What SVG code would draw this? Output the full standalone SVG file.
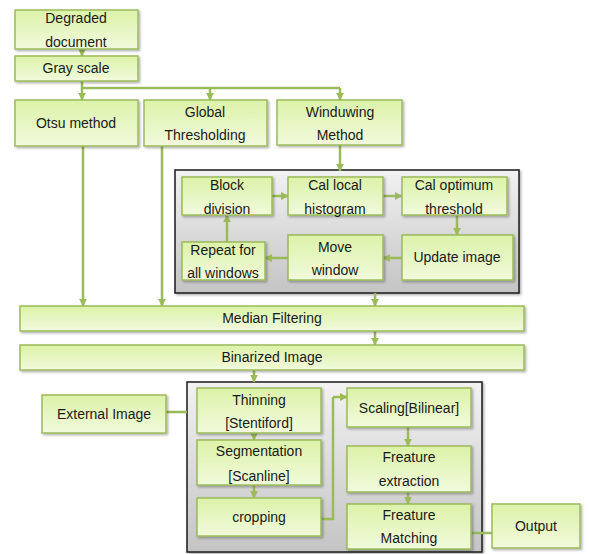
<svg xmlns="http://www.w3.org/2000/svg" width="590" height="554" viewBox="0 0 590 554">
<defs>
<linearGradient id="gg" x1="0" y1="0" x2="0" y2="1"><stop offset="0" stop-color="#dcf2a8"/><stop offset="1" stop-color="#f1fadc"/></linearGradient>
<linearGradient id="gray" x1="0" y1="0" x2="0" y2="1"><stop offset="0" stop-color="#f2f2f2"/><stop offset="1" stop-color="#c4c4c4"/></linearGradient>
<filter id="sh" x="-10%" y="-10%" width="120%" height="130%"><feDropShadow dx="1.5" dy="1.5" stdDeviation="1" flood-color="#000" flood-opacity="0.3"/></filter>
<marker id="ah" viewBox="0 0 10 10" refX="9" refY="5" markerWidth="3.2" markerHeight="3.2" orient="auto"><path d="M0,0L10,5L0,10z" fill="#9bbb59"/></marker>
</defs>
<style>
.n{fill:url(#gg);stroke:#9bbb59;stroke-width:1.5;filter:url(#sh)}
.o{fill:url(#gray);stroke:#1a1a1a;stroke-width:1.5;filter:url(#sh)}
.t{font-family:"Liberation Sans",Arial,sans-serif;font-size:14px;fill:#1a1a1a;text-anchor:middle}
.c{fill:none;stroke:#9bbb59;stroke-width:2.5}
.a{marker-end:url(#ah)}
</style>
<rect width="590" height="554" fill="#fff"/>
<g id="frame-window"><rect class="o" x="175" y="170" width="344" height="123"/></g>
<g id="frame-recog"><rect class="o" x="187" y="382" width="295" height="170"/></g>
<g id="connectors">
<path class="c a" d="M82,45V56"/>
<path class="c" d="M82,81V88H340"/>
<path class="c a" d="M82,88V100"/>
<path class="c a" d="M210,88V100"/>
<path class="c a" d="M340,88V100"/>
<path class="c a" d="M340,145V171"/>
<path class="c a" d="M272,196H288"/>
<path class="c a" d="M383,196H402"/>
<path class="c a" d="M457,215V235"/>
<path class="c a" d="M402,258H383"/>
<path class="c a" d="M288,258H265"/>
<path class="c a" d="M227,242V215"/>
<path class="c a" d="M83,146V306"/>
<path class="c a" d="M162,146V306"/>
<path class="c a" d="M375,293V306"/>
<path class="c a" d="M375,331V345"/>
<path class="c a" d="M254,370V382"/>
<path class="c" d="M166,412H187"/>
<path class="c a" d="M254,428V440"/>
<path class="c a" d="M254,478V498"/>
<path class="c" d="M321,519H333V397"/>
<path class="c a" d="M333,397H347"/>
<path class="c a" d="M408,427V446"/>
<path class="c a" d="M408,492V504"/>
<path class="c" d="M471,533H492"/>
</g>
<g id="degraded"><rect class="n" x="15" y="10" width="123" height="39"/><text class="t" x="76" y="23">Degraded</text><text class="t" x="76" y="47">document</text></g>
<g id="grayscale"><rect class="n" x="15" y="56" width="123" height="25"/><text class="t" x="76" y="73">Gray scale</text></g>
<g id="otsu"><rect class="n" x="15" y="100" width="123" height="46"/><text class="t" x="76" y="128">Otsu method</text></g>
<g id="global"><rect class="n" x="144" y="100" width="123" height="46"/><text class="t" x="205" y="117">Global</text><text class="t" x="205" y="140">Thresholding</text></g>
<g id="windowing"><rect class="n" x="277" y="100" width="125" height="45"/><text class="t" x="340" y="117">Winduwing</text><text class="t" x="340" y="140">Method</text></g>
<g id="block"><rect class="n" x="182" y="177" width="90" height="38"/><text class="t" x="227" y="190">Block</text><text class="t" x="227" y="214">division</text></g>
<g id="callocal"><rect class="n" x="288" y="177" width="95" height="38"/><text class="t" x="335" y="190">Cal local</text><text class="t" x="335" y="214">histogram</text></g>
<g id="calopt"><rect class="n" x="402" y="177" width="105" height="38"/><text class="t" x="454" y="190">Cal optimum</text><text class="t" x="454" y="214">threshold</text></g>
<g id="repeat"><rect class="n" x="182" y="242" width="83" height="38"/><text class="t" x="223" y="255">Repeat for</text><text class="t" x="223" y="278">all windows</text></g>
<g id="move"><rect class="n" x="288" y="235" width="95" height="45"/><text class="t" x="335" y="252">Move</text><text class="t" x="335" y="275">window</text></g>
<g id="update"><rect class="n" x="402" y="235" width="111" height="45"/><text class="t" x="457" y="262">Update image</text></g>
<g id="median"><rect class="n" x="20" y="306" width="504" height="25"/><text class="t" x="272" y="323">Median  Filtering</text></g>
<g id="binarized"><rect class="n" x="20" y="345" width="504" height="25"/><text class="t" x="272" y="362">Binarized Image</text></g>
<g id="external"><rect class="n" x="42" y="395" width="124" height="38"/><text class="t" x="104" y="419">External  Image</text></g>
<g id="thinning"><rect class="n" x="197" y="388" width="124" height="45"/><text class="t" x="259" y="405">Thinning</text><text class="t" x="259" y="428">[Stentiford]</text></g>
<g id="segmentation"><rect class="n" x="197" y="440" width="124" height="45"/><text class="t" x="259" y="456">Segmentation</text><text class="t" x="259" y="481">[Scanline]</text></g>
<g id="cropping"><rect class="n" x="197" y="498" width="124" height="38"/><text class="t" x="259" y="522">cropping</text></g>
<g id="scaling"><rect class="n" x="347" y="388" width="124" height="39"/><text class="t" x="409" y="413">Scaling[Bilinear]</text></g>
<g id="extraction"><rect class="n" x="347" y="446" width="124" height="46"/><text class="t" x="409" y="462">Freature</text><text class="t" x="409" y="486">extraction</text></g>
<g id="matching"><rect class="n" x="347" y="504" width="124" height="45"/><text class="t" x="409" y="520">Freature</text><text class="t" x="409" y="543">Matching</text></g>
<g id="output"><rect class="n" x="492" y="504" width="88" height="44"/><text class="t" x="536" y="531">Output</text></g>
</svg>
